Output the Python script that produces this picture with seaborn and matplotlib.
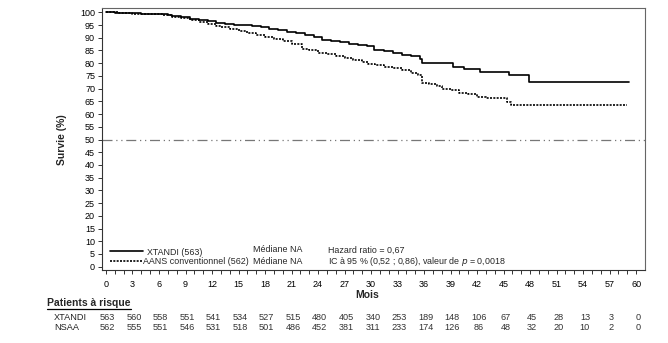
import matplotlib
matplotlib.use("Agg")
import matplotlib.pyplot as plt
import matplotlib.transforms as mtransforms
from matplotlib.lines import Line2D
import seaborn as sns
import pandas as pd

# ---- data ----
xtandi_t = [0, 1.0, 2.5, 4.0, 6.0, 7.0, 7.5, 8.5, 9.5, 10.5, 11.5, 12.5, 13.5, 14.5, 15.5,
            16.5, 17.5, 18.5, 19.5, 20.5, 21.5, 22.5, 23.5, 24.5, 25.5, 26.5, 27.5, 28.5,
            29.5, 30.3, 31.5, 32.5, 33.5, 34.5, 35.5, 35.8, 39.3, 40.5, 42.3, 45.6, 47.9, 59.2]
xtandi_s = [100, 99.8, 99.6, 99.4, 99.2, 99.0, 98.5, 98.0, 97.5, 97.1, 96.6, 95.8, 95.4, 95.2, 95.0,
            94.6, 94.2, 93.6, 93.0, 92.3, 91.7, 91.0, 90.2, 89.3, 88.7, 88.2, 87.5, 87.2,
            86.7, 85.3, 84.6, 84.0, 83.3, 82.7, 81.8, 79.9, 78.4, 77.6, 76.6, 75.2, 72.8, 72.8]

nsaa_t = [0, 1.5, 3.0, 5.0, 6.5, 7.5, 8.5, 9.5, 10.5, 11.5, 12.5, 13.0, 14.0, 15.0, 16.0,
          17.0, 18.0, 19.0, 20.0, 21.0, 22.2, 23.0, 24.0, 25.0, 26.0, 27.0, 28.0, 29.0, 29.6,
          30.5, 31.5, 32.5, 33.5, 34.5, 35.3, 35.8, 36.5, 37.5, 38.0, 39.0, 40.0, 41.0, 42.0,
          43.0, 45.4, 45.8, 59.0]
nsaa_s = [100, 99.7, 99.5, 99.2, 98.9, 98.3, 97.7, 97.0, 96.2, 95.6, 94.8, 94.2, 93.4, 92.5, 91.7,
          91.0, 90.4, 89.5, 88.6, 87.6, 85.5, 85.0, 84.2, 83.5, 82.8, 82.0, 81.3, 80.6, 79.8,
          79.3, 78.7, 78.0, 77.3, 76.3, 75.3, 72.4, 71.7, 70.9, 69.8, 69.3, 68.4, 67.9, 66.8,
          66.3, 64.9, 63.7, 63.7]

risk_months = list(range(0, 61, 3))
risk_xtandi = [563, 560, 558, 551, 541, 534, 527, 515, 480, 405, 340, 253, 189, 148, 106, 67, 45, 28, 13, 3, 0]
risk_nsaa = [562, 555, 551, 546, 531, 518, 501, 486, 452, 381, 311, 233, 174, 126, 86, 48, 32, 20, 10, 2, 0]

group_labels = ["XTANDI (563)", "AANS conventionnel (562)"]

# ---- figure ----
sns.set_theme(style="white")
plt.rcParams["font.family"] = ["Liberation Sans", "DejaVu Sans"]

W, H = 668, 343
fig = plt.figure(figsize=(W / 100, H / 100), dpi=100)
L, R, T, B = 102, 645, 8, 270
ax = fig.add_axes([L / W, 1 - B / H, (R - L) / W, (B - T) / H])

df1 = pd.DataFrame({"t": xtandi_t, "s": xtandi_s})
df2 = pd.DataFrame({"t": nsaa_t, "s": nsaa_s})
sns.lineplot(data=df1, x="t", y="s", ax=ax, estimator=None, sort=False,
             drawstyle="steps-post", color="black", linewidth=1.2)
sns.lineplot(data=df2, x="t", y="s", ax=ax, estimator=None, sort=False,
             drawstyle="steps-post", color="black", linewidth=1.2, linestyle=(0, (1.2, 0.8)))

ax.axhline(50, color="#777777", linewidth=0.9, linestyle=(0, (8, 3, 1, 3, 1, 3)))

ax.set_xlim(-0.45, 61.0)
ax.set_ylim(-1.3, 101.7)
ax.set_xticks(risk_months)
ax.set_xticks(range(0, 61), minor=True)
ax.set_yticks(range(0, 101, 5))
ax.tick_params(axis="both", which="both", direction="out", length=3, width=0.7,
               colors="#333333", labelsize=6.5, pad=2, bottom=True, left=True)
ax.tick_params(axis="x", which="major", length=3, pad=4)
ax.tick_params(axis="x", which="minor", length=3)
for lab in ax.get_xticklabels() + ax.get_yticklabels():
    lab.set_color("black")
for side, sp in ax.spines.items():
    sp.set_visible(True)
    sp.set_linewidth(0.8)
    sp.set_color("#666666")
ax.spines["left"].set_color("#333333")
ax.spines["bottom"].set_color("#333333")

ax.set_xlabel("")
ax.set_ylabel("")
fig.text(62 / W, 1 - 140 / H, "Survie (%)", rotation=90, ha="center", va="center",
         fontsize=7.5, fontweight="bold")
fig.text(367 / W, 1 - 295 / H, "Mois", ha="center", va="center", fontsize=7.5, fontweight="bold")

# legend / annotation block
fig.add_artist(Line2D([110 / W, 143 / W], [1 - 251 / H, 1 - 251 / H], color="black", linewidth=1.2))
fig.add_artist(Line2D([110 / W, 143 / W], [1 - 261 / H, 1 - 261 / H], color="black",
                      linewidth=1.2, linestyle=(0, (1.2, 0.8))))
fs = 6.4
fig.text(147 / W, 1 - 252.5 / H, group_labels[0], ha="left", va="center", fontsize=fs)
fig.text(143 / W, 1 - 261 / H, group_labels[1], ha="left", va="center", fontsize=fs)
fig.text(253 / W, 1 - 250 / H, "Médiane NA", ha="left", va="center", fontsize=fs)
fig.text(253 / W, 1 - 261 / H, "Médiane NA", ha="left", va="center", fontsize=fs)
fig.text(328 / W, 1 - 250 / H, "Hazard ratio = 0,67", ha="left", va="center", fontsize=fs)
fig.text(328 / W, 1 - 261 / H, "IC à 95 % (0,52 ; 0,86), valeur de $\\it{p}$ = 0,0018",
         ha="left", va="center", fontsize=fs)

# risk table
t_pt = fig.text(47 / W, 1 - 303 / H, "Patients à risque", ha="left", va="center",
                fontsize=7.5, fontweight="bold")
fig.canvas.draw()
bb = t_pt.get_window_extent()
fig.add_artist(Line2D([bb.x0 / W, bb.x1 / W], [(bb.y0 - 0.5) / H, (bb.y0 - 0.5) / H],
                      color="black", linewidth=0.9))

fig.text(54 / W, 1 - 318 / H, "XTANDI", ha="left", va="center", fontsize=6.6, color="#222222")
fig.text(54 / W, 1 - 327 / H, "NSAA", ha="left", va="center", fontsize=6.6, color="#222222")
trans = mtransforms.blended_transform_factory(ax.transData, fig.transFigure)
for m, a, b in zip(risk_months, risk_xtandi, risk_nsaa):
    ax.text(m + 0.2, 1 - 318 / H, str(a), transform=trans, ha="center", va="center",
            fontsize=6.6, color="#333333", clip_on=False)
    ax.text(m + 0.2, 1 - 327 / H, str(b), transform=trans, ha="center", va="center",
            fontsize=6.6, color="#333333", clip_on=False)

fig.savefig("out.png", dpi=100, facecolor="white")
